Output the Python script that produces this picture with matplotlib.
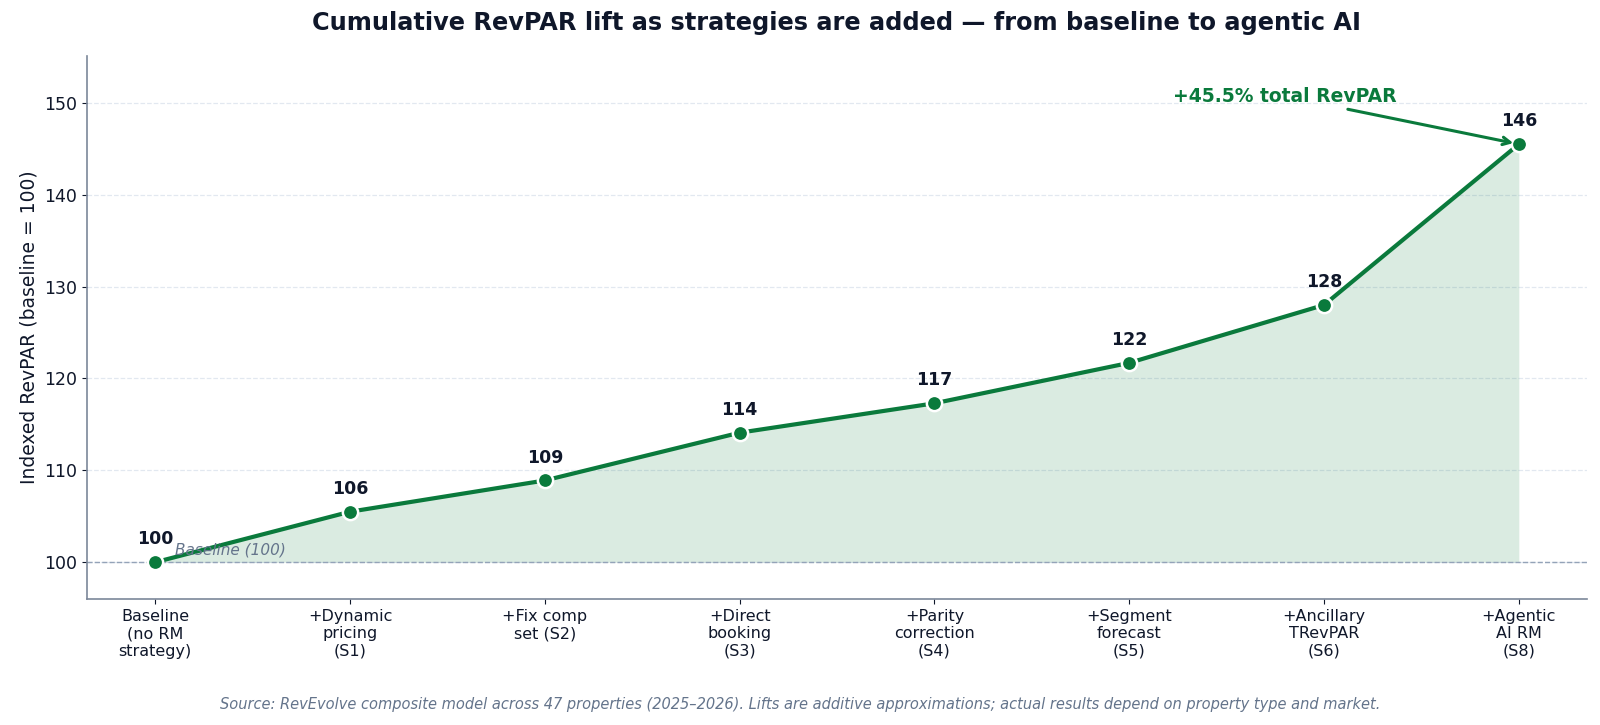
import matplotlib
matplotlib.use("Agg")
import matplotlib.pyplot as plt

categories = ["Baseline\n(no RM\nstrategy)", "+Dynamic\npricing\n(S1)", "+Fix comp\nset (S2)",
              "+Direct\nbooking\n(S3)", "+Parity\ncorrection\n(S4)", "+Segment\nforecast\n(S5)",
              "+Ancillary\nTRevPAR\n(S6)", "+Agentic\nAI RM\n(S8)"]
values = [100.0, 105.5, 108.9, 114.1, 117.3, 121.7, 128.0, 145.5]
value_labels = ["100", "106", "109", "114", "117", "122", "128", "146"]
yticks = [100, 110, 120, 130, 140, 150]

green = "#0a7a3c"
dark = "#0f172a"
gray = "#64748b"

fig = plt.figure(figsize=(16, 7.25), dpi=100)
ax = fig.add_axes([87/1600, 1-599/725, 1500/1600, 543/725])

x = list(range(len(values)))
ax.fill_between(x, 100, values, color=green, alpha=0.15, linewidth=0)
ax.axhline(100, color="#94a3b8", linestyle="--", linewidth=1.0, zorder=1)
ax.plot(x, values, color=green, linewidth=3, marker="o", markersize=11,
        markerfacecolor=green, markeredgecolor="white", markeredgewidth=1.8, zorder=3)

for xi, v, lab in zip(x, values, value_labels):
    ax.annotate(lab, (xi, v), xytext=(0, 10), textcoords="offset points",
                ha="center", va="bottom", fontsize=12.5, fontweight="bold", color=dark)

ax.text(0.1, 100.5, "Baseline (100)", fontsize=11, style="italic", color=gray, va="bottom", ha="left")

ax.annotate("+45.5% total RevPAR", xy=(x[-1], values[-1]), xytext=(5.8, 150.7),
            ha="center", va="center", fontsize=13.5, fontweight="bold", color=green,
            arrowprops=dict(arrowstyle="->", color=green, lw=2.2, shrinkB=4))

ax.set_xlim(-0.35, 7.35)
ax.set_ylim(96, 155.1)
ax.set_xticks(x)
ax.set_xticklabels(categories, fontsize=11.5, color=dark)
ax.set_yticks(yticks)
ax.tick_params(axis="y", labelsize=12.5, colors=dark)
ax.tick_params(axis="both", color=dark)
ax.set_ylabel("Indexed RevPAR (baseline = 100)", fontsize=13.5, color=dark)
ax.yaxis.grid(True, linestyle="--", color="#e2e8f0", linewidth=0.9)
ax.set_axisbelow(True)
for s in ["top", "right"]:
    ax.spines[s].set_visible(False)
for s in ["left", "bottom"]:
    ax.spines[s].set_color("#7c8799")
    ax.spines[s].set_linewidth(1.2)

ax.set_title("Cumulative RevPAR lift as strategies are added \u2014 from baseline to agentic AI",
             fontsize=17.3, fontweight="bold", color=dark, pad=19)
fig.text(0.5, 1-705/725, "Source: RevEvolve composite model across 47 properties (2025\u20132026). Lifts are additive approximations; actual results depend on property type and market.",
         ha="center", va="center", fontsize=10.5, style="italic", color=gray)

fig.savefig("out.png", dpi=100)
